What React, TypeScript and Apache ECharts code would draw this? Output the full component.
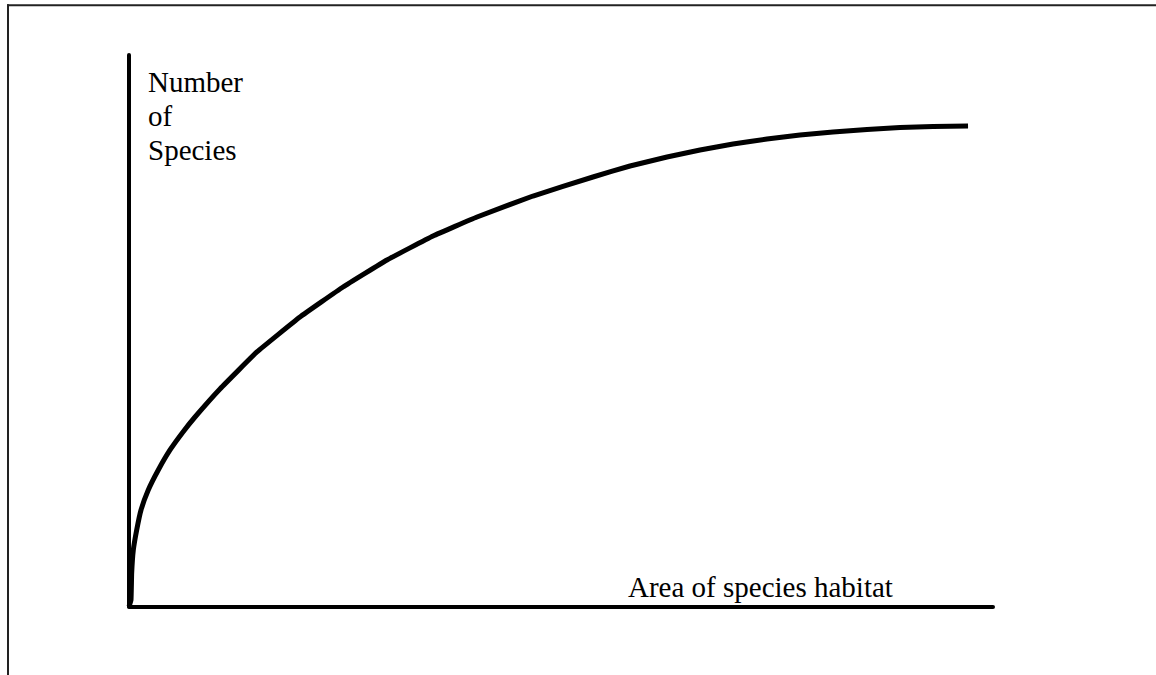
import React, { useEffect, useRef } from "react";
import * as echarts from "echarts";

const areaValues = [0, 0.23, 0.31, 0.5, 0.89, 1.39, 2.23, 3.39, 4.75, 6.25, 7.64, 10.53, 14.81, 19.79, 24.77, 29.86, 35.19, 40.28, 46.76, 53.7, 57.99, 62.27, 66.09, 69.91, 73.84, 77.66, 81.48, 85.42, 89.24, 93.06, 97.11];
const speciesValues = [0, 1.18, 6.07, 10.24, 13.87, 17.5, 21.12, 24.75, 28.38, 31.64, 34.36, 39.44, 46.15, 52.49, 57.93, 62.83, 67.18, 70.63, 74.43, 77.88, 79.87, 81.5, 82.77, 83.86, 84.77, 85.49, 86.04, 86.49, 86.85, 87.04, 87.13];
const yLabelLines = ["Number", "of", "Species"];
const xLabel = "Area of species habitat";

export default function App() {
  const ref = useRef<HTMLDivElement>(null);
  useEffect(() => {
    if (!ref.current) return;
    const chart = echarts.init(ref.current, undefined, { renderer: "svg" });
    const font = "'Liberation Serif', 'Times New Roman', serif";
    const data = areaValues.map((x, i) => [x, speciesValues[i]]);
    const axisCommon = {
      type: "value" as const,
      min: 0,
      max: 100,
      axisLine: { show: true, lineStyle: { color: "#000", width: 4 } },
      axisTick: { show: false },
      axisLabel: { show: false },
      splitLine: { show: false },
    };
    chart.setOption({
      animation: false,
      backgroundColor: "#fff",
      grid: { left: 129, right: 163, top: 55, bottom: 68.5 },
      xAxis: { ...axisCommon },
      yAxis: { ...axisCommon },
      series: [
        {
          type: "line",
          data,
          smooth: 0.1,
          showSymbol: false,
          lineStyle: { color: "#000", width: 5, join: "round" },
          clip: false,
        },
      ],
      graphic: [
        { type: "line", shape: { x1: 7, y1: 5.3, x2: 1156, y2: 5.3 }, style: { stroke: "#222", lineWidth: 2 } },
        { type: "line", shape: { x1: 8, y1: 4.3, x2: 8, y2: 675 }, style: { stroke: "#222", lineWidth: 2 } },
        ...yLabelLines.map((t, i) => ({
          type: "text",
          x: 148,
          y: 82 + i * 34,
          style: { text: t, font: `29px ${font}`, fill: "#000", verticalAlign: "middle", align: "left" },
        })),
        {
          type: "text",
          x: 628,
          y: 587,
          style: { text: xLabel, font: `29px ${font}`, fill: "#000", verticalAlign: "middle", align: "left" },
        },
      ],
    });
    return () => chart.dispose();
  }, []);
  return <div ref={ref} style={{ position: "absolute", left: 0, top: 0, width: 1156, height: 675 }} />;
}
